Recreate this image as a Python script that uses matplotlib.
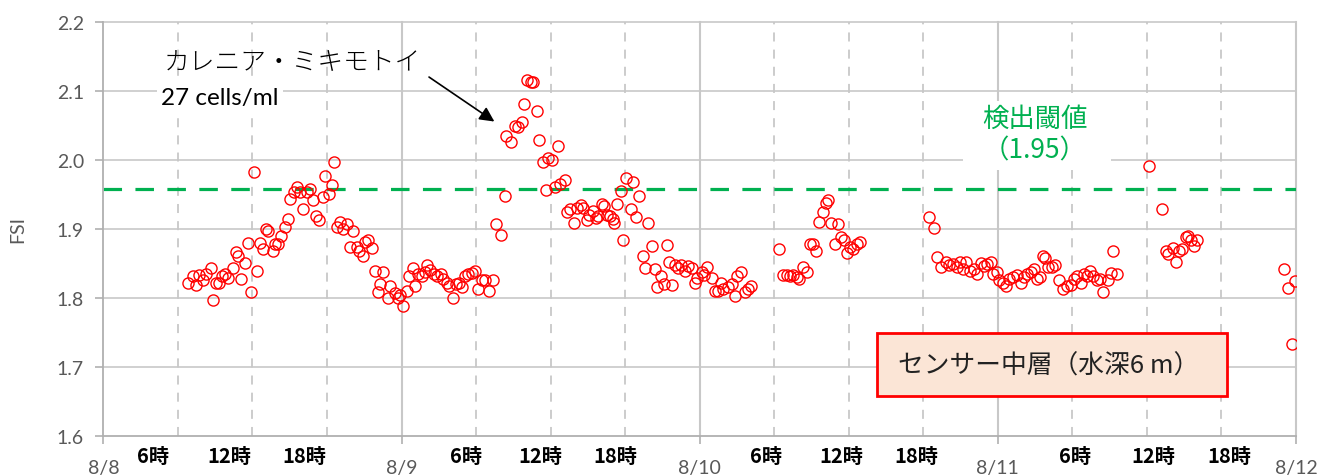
import numpy as np
import matplotlib.pyplot as plt
from matplotlib.patches import Rectangle
from matplotlib.transforms import blended_transform_factory

plt.rcParams['font.family'] = ['Lato', 'Noto Sans CJK JP', 'DejaVu Sans']

# hours from 8/8 00:00
hours = [
    6.84, 7.20, 7.46, 7.73, 8.05, 8.27, 8.64, 8.85, 9.07, 9.34, 9.53, 9.79,
    10.06, 10.41, 10.68, 10.87, 11.08, 11.40, 11.62, 11.89, 12.15, 12.35, 12.61, 12.88,
    13.09, 13.28, 13.63, 13.82, 14.08, 14.30, 14.62, 14.84, 15.03, 15.35, 15.57, 15.83,
    16.10, 16.37, 16.64, 16.85, 17.12, 17.36, 17.66, 17.84, 18.19, 18.38, 18.57, 18.78,
    19.05, 19.32, 19.64, 19.86, 20.12, 20.39, 20.58, 20.88, 21.06, 21.30, 21.60, 21.87,
    22.13, 22.27, 22.54, 22.94, 23.07, 23.48, 23.74, 23.88, 24.10, 24.42, 24.63, 24.90,
    25.09, 25.35, 25.63, 25.89, 26.08, 26.29, 26.62, 26.83, 27.18, 27.36, 27.64, 27.85,
    28.12, 28.39, 28.65, 28.85, 29.11, 29.38, 29.65, 29.92, 30.13, 30.46, 30.72, 31.07,
    31.39, 31.61, 31.98, 32.33, 32.41, 32.79, 33.14, 33.35, 33.67, 33.86, 34.12, 34.40,
    34.61, 34.88, 35.09, 35.36, 35.63, 35.81, 36.09, 36.35, 36.62, 36.76, 37.16, 37.34,
    37.56, 37.88, 38.10, 38.42, 38.63, 38.91, 39.11, 39.39, 39.65, 39.84, 40.11, 40.32,
    40.52, 40.78, 41.00, 41.10, 41.37, 41.64, 41.85, 42.07, 42.45, 42.61, 42.87, 43.14,
    43.41, 43.60, 43.86, 44.14, 44.40, 44.59, 44.89, 45.13, 45.34, 45.53, 45.75, 46.01,
    46.28, 46.50, 46.82, 47.08, 47.36, 47.62, 47.81, 48.16, 48.35, 48.61, 48.97, 49.23,
    49.50, 49.69, 49.90, 50.30, 50.58, 50.84, 51.03, 51.30, 51.65, 51.91, 52.10,
    54.41, 54.73, 55.00, 55.27, 55.53, 55.81, 56.02, 56.34, 56.66, 56.88, 57.14, 57.36,
    57.63, 57.90, 58.17, 58.35, 58.57, 58.89, 59.15, 59.37, 59.61, 59.88, 60.10, 60.36,
    60.64, 60.90,
    66.49, 66.86, 67.12, 67.40, 67.82, 68.09, 68.36, 68.68, 68.95, 69.22, 69.43, 69.75,
    70.08, 70.34, 70.62, 70.88, 71.15, 71.42, 71.63, 71.90, 72.11, 72.43, 72.65, 72.92,
    73.24, 73.56, 73.84, 74.10, 74.37, 74.64, 74.91, 75.12, 75.39, 75.61, 75.79, 76.06,
    76.33, 76.60, 76.94, 77.26, 77.54, 77.86, 78.12, 78.39, 78.66, 78.93, 79.20, 79.41,
    79.68, 80.00, 80.22, 80.48, 80.89, 81.10, 81.30, 81.59,
    84.19, 85.18, 85.53, 85.71, 86.07, 86.33, 86.60, 86.79, 87.14, 87.32, 87.52, 87.78,
    88.05,
    95.03, 95.37, 95.65, 95.91,
]
fsi = [
    1.821, 1.832, 1.819, 1.833, 1.825, 1.834, 1.843, 1.797, 1.822, 1.821, 1.832, 1.834,
    1.828, 1.843, 1.866, 1.860, 1.827, 1.850, 1.879, 1.808, 1.982, 1.838, 1.879, 1.871,
    1.900, 1.897, 1.867, 1.878, 1.878, 1.890, 1.902, 1.914, 1.943, 1.953, 1.960, 1.953,
    1.929, 1.953, 1.957, 1.941, 1.919, 1.913, 1.946, 1.976, 1.950, 1.963, 1.996, 1.902,
    1.909, 1.900, 1.907, 1.873, 1.896, 1.873, 1.867, 1.860, 1.880, 1.883, 1.872, 1.838,
    1.808, 1.820, 1.837, 1.799, 1.817, 1.807, 1.799, 1.804, 1.788, 1.809, 1.832, 1.843,
    1.817, 1.834, 1.832, 1.837, 1.847, 1.840, 1.834, 1.832, 1.834, 1.827, 1.821, 1.817,
    1.799, 1.820, 1.822, 1.815, 1.832, 1.834, 1.836, 1.838, 1.812, 1.825, 1.825, 1.809,
    1.826, 1.907, 1.891, 1.947, 2.034, 2.026, 2.049, 2.047, 2.054, 2.081, 2.116, 2.112,
    2.112, 2.070, 2.029, 1.997, 1.956, 2.003, 2.000, 1.961, 2.020, 1.965, 1.971, 1.924,
    1.928, 1.908, 1.930, 1.934, 1.930, 1.912, 1.920, 1.925, 1.915, 1.919, 1.936, 1.933,
    1.920, 1.918, 1.914, 1.908, 1.936, 1.954, 1.883, 1.973, 1.929, 1.968, 1.917, 1.947,
    1.861, 1.843, 1.908, 1.875, 1.841, 1.815, 1.831, 1.820, 1.876, 1.852, 1.818, 1.847,
    1.843, 1.847, 1.839, 1.846, 1.843, 1.821, 1.828, 1.837, 1.833, 1.844, 1.828, 1.810,
    1.810, 1.821, 1.813, 1.815, 1.820, 1.803, 1.831, 1.837, 1.808, 1.812, 1.817,
    1.871, 1.833, 1.833, 1.832, 1.833, 1.830, 1.827, 1.845, 1.837, 1.878, 1.878, 1.867,
    1.909, 1.924, 1.937, 1.941, 1.908, 1.878, 1.907, 1.888, 1.884, 1.865, 1.873, 1.871,
    1.878, 1.880,
    1.917, 1.901, 1.859, 1.844, 1.852, 1.847, 1.849, 1.844, 1.852, 1.842, 1.852, 1.839,
    1.842, 1.834, 1.850, 1.846, 1.849, 1.852, 1.834, 1.837, 1.825, 1.821, 1.817, 1.827,
    1.830, 1.833, 1.821, 1.830, 1.834, 1.837, 1.842, 1.827, 1.830, 1.861, 1.857, 1.844,
    1.845, 1.847, 1.825, 1.813, 1.817, 1.818, 1.827, 1.832, 1.822, 1.834, 1.832, 1.838,
    1.831, 1.825, 1.827, 1.808, 1.825, 1.836, 1.868, 1.835,
    1.991, 1.928, 1.867, 1.863, 1.872, 1.851, 1.868, 1.871, 1.888, 1.889, 1.884, 1.875,
    1.884,
    1.842, 1.814, 1.733, 1.824,
]

threshold = 1.957
day_ticks = [0, 24, 48, 72, 96]
day_labels = ['8/8', '8/9', '8/10', '8/11', '8/12']
hour_ticks = [6, 12, 18, 30, 36, 42, 54, 60, 66, 78, 84, 90]
hour_labels = ['6時', '12時', '18時'] * 4
# where the hour captions sit (hours), slightly left of their gridline
hour_label_x = [4.0, 10.1, 16.2, 29.2, 35.2, 41.2, 53.3, 59.4, 65.4, 78.2, 84.5, 90.6]
yticks = [1.6, 1.7, 1.8, 1.9, 2.0, 2.1, 2.2]

grid_c = '#c8c8c8'
txt_c = '#595959'
jp = ['Noto Sans CJK JP', 'DejaVu Sans']

fig = plt.figure(figsize=(13.2, 4.77), dpi=100)
ax = fig.add_axes([0.0783, 0.0845, 0.9035, 0.868])

ax.set_xlim(0, 96)
ax.set_ylim(1.6, 2.2)

# grid
for y in yticks[1:]:
    ax.axhline(y, color=grid_c, lw=1.2, zorder=0, clip_on=False)
for d in day_ticks[1:]:
    ax.axvline(d, color=grid_c, lw=1.5, zorder=0, clip_on=False)
for h in hour_ticks:
    ax.axvline(h, color=grid_c, lw=1.3, ls=(0, (5, 4.5)), zorder=0)

# threshold line
ax.axhline(threshold, color='#00b050', lw=2.3, ls=(0, (5.8, 4.2)), zorder=2)

ax.plot(hours, fsi, 'o', ms=8, mfc='none', mec='#ff0000', mew=1.0, zorder=3)

for s in ['top', 'right']:
    ax.spines[s].set_visible(False)
ax.spines['left'].set_color('#b0b0b0')
ax.spines['bottom'].set_color('#b0b0b0')
ax.spines['left'].set_linewidth(1.3)
ax.spines['bottom'].set_linewidth(1.3)

ax.set_yticks(yticks)
ax.set_yticklabels([f'{v:.1f}' for v in yticks])
ax.set_xticks(day_ticks)
ax.set_xticklabels(day_labels)
ax.tick_params(axis='y', length=6, width=1.2, color='#b0b0b0', labelsize=14,
               labelcolor=txt_c, pad=8)
ax.tick_params(axis='x', length=6, width=1.2, color='#b0b0b0', labelsize=14,
               labelcolor=txt_c, pad=11)
ax.set_ylabel('FSI', fontsize=14, color=txt_c, labelpad=22)

trans = blended_transform_factory(ax.transData, ax.transAxes)
for x, lab in zip(hour_label_x, hour_labels):
    ax.text(x, -0.047, lab, transform=trans, ha='center', va='center',
            fontsize=14.5, fontweight='bold', color='black', family=jp, clip_on=False)

# annotation
ax.text(4.9, 2.1435, 'カレニア・ミキモトイ', fontsize=18.5, va='center', ha='left',
        family=jp, fontweight='light', color='black')
ax.text(4.65, 2.090, '27 cells/ml', fontsize=17.5, va='center', ha='left', color='black',
        bbox=dict(facecolor='white', edgecolor='none', pad=3), zorder=4)
ax.annotate('', xy=(31.66, 2.053), xytext=(26.03, 2.122),
            arrowprops=dict(arrowstyle='-|>', color='black', lw=1.2, mutation_scale=22))

# threshold label
ax.add_patch(Rectangle((69.2, 1.985), 11.9, 0.1, facecolor='white', edgecolor='none', zorder=1))
ax.text(75.0, 2.060, '検出閾値', fontsize=19, color='#00b050', ha='center', va='center',
        family=jp, zorder=4)
ax.text(75.0, 2.014, '（1.95）', fontsize=19, color='#00b050', ha='center', va='center',
        family=jp, zorder=4)

# sensor box
ax.add_patch(Rectangle((0.6485, 0.0966), 0.294, 0.1514, transform=ax.transAxes,
                       facecolor='#fbe5d6', edgecolor='#ff0000', lw=2.0, zorder=5))
ax.text(0.6662, 0.169, 'センサー中層（水深6 m）', transform=ax.transAxes, fontsize=18.5,
        ha='left', va='center', color='#222222', family=jp, zorder=6)

fig.savefig('out.png', dpi=100)
